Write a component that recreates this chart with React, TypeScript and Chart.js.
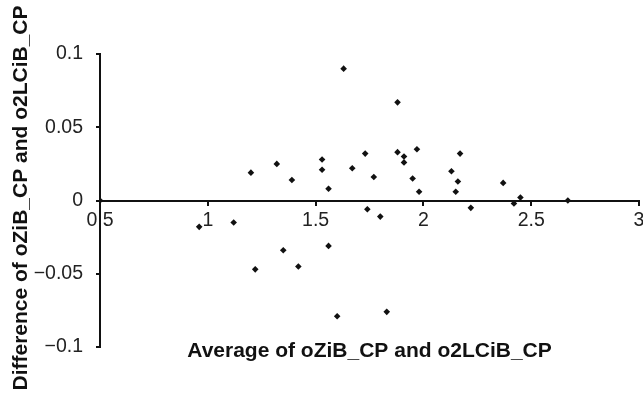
import React, { useEffect, useRef } from "react";
import { Chart, registerables } from "chart.js";

Chart.register(...registerables);

// Bland–Altman style data: average (x) vs difference (y)
const averages = [
  0.5, 0.96, 1.12, 1.2, 1.22, 1.32, 1.35, 1.39, 1.42, 1.53, 1.53, 1.56, 1.56, 1.6,
  1.63, 1.67, 1.73, 1.74, 1.77, 1.8, 1.83, 1.88, 1.88, 1.91, 1.91, 1.95, 1.97, 1.98,
  2.13, 2.15, 2.16, 2.17, 2.22, 2.37, 2.42, 2.45, 2.67,
];
const differences = [
  0.0, -0.018, -0.015, 0.019, -0.047, 0.025, -0.034, 0.014, -0.045, 0.028, 0.021, 0.008, -0.031, -0.079,
  0.09, 0.022, 0.032, -0.006, 0.016, -0.011, -0.076, 0.067, 0.033, 0.03, 0.026, 0.015, 0.035, 0.006,
  0.02, 0.006, 0.013, 0.032, -0.005, 0.012, -0.002, 0.002, 0.0,
];
const xTicks = [0.5, 1, 1.5, 2, 2.5, 3];
const yTicks = [-0.1, -0.05, 0, 0.05, 0.1];
const xTitle = "Average of oZiB_CP and o2LCiB_CP";
const yTitle = "Difference of oZiB_CP and o2LCiB_CP";

const FONT = "'Liberation Sans', Arial, Helvetica, sans-serif";

// Axis titles: x title sits inside the lower plot region, y title runs along the left edge
const titlesPlugin = {
  id: "axisTitles",
  afterDraw(chart: any) {
    const { ctx, chartArea } = chart;
    ctx.save();
    ctx.fillStyle = "#111";
    ctx.font = `bold 21px ${FONT}`;
    ctx.textAlign = "center";
    ctx.textBaseline = "alphabetic";
    const cx = (chartArea.left + chartArea.right) / 2;
    ctx.fillText(xTitle, cx, 357);
    ctx.translate(27, 198);
    ctx.rotate(-Math.PI / 2);
    ctx.fillText(yTitle, 0, 0);
    ctx.restore();
  },
};

export default function App() {
  const ref = useRef<HTMLCanvasElement>(null);

  useEffect(() => {
    document.body.style.margin = "0";
    const canvas = ref.current!;
    const points = averages.map((x, i) => ({ x, y: differences[i] }));
    const chart = new Chart(canvas, {
      type: "scatter",
      data: {
        datasets: [
          {
            data: points,
            pointStyle: "rectRot",
            pointRadius: 3.3,
            pointBackgroundColor: "#111",
            pointBorderColor: "#111",
            pointBorderWidth: 0,
          },
        ],
      },
      options: {
        responsive: false,
        animation: false,
        layout: { padding: { top: 54, right: 3, left: 0, bottom: 49 } },
        plugins: { legend: { display: false }, tooltip: { enabled: false } },
        scales: {
          x: {
            type: "linear",
            position: { y: 0 } as any,
            min: 0.5,
            max: 3,
            afterBuildTicks: (s: any) => {
              s.ticks = xTicks.map((v) => ({ value: v }));
            },
            afterFit: (s: any) => {
              s.height = 0;
              s.paddingLeft = 0;
              s.paddingRight = 0;
            },
            border: { display: true, color: "#111", width: 2 },
            grid: { drawOnChartArea: false, drawTicks: true, tickLength: 4, color: "#111", lineWidth: 2 },
            ticks: {
              color: "#222",
              font: { size: 19.5, family: FONT },
              padding: 4,
              maxRotation: 0,
              callback: (v: any) => String(v),
            },
          },
          y: {
            type: "linear",
            min: -0.1,
            max: 0.1,
            afterBuildTicks: (s: any) => {
              s.ticks = yTicks.map((v) => ({ value: v }));
            },
            afterFit: (s: any) => {
              s.width = 100;
            },
            border: { display: true, color: "#111", width: 2 },
            grid: { drawOnChartArea: false, drawTicks: true, tickLength: 4, color: "#111", lineWidth: 2 },
            ticks: {
              color: "#222",
              font: { size: 19.5, family: FONT },
              padding: 13,
              callback: (v: any) => (v < 0 ? "\u2212" + String(-v) : String(v)),
            },
          },
        },
      },
      plugins: [titlesPlugin],
    });
    return () => chart.destroy();
  }, []);

  return (
    <div style={{ position: "fixed", left: 0, top: 0, width: 643, height: 396, background: "#fff" }}>
      <canvas ref={ref} width={643} height={396} style={{ width: 643, height: 396 }} />
    </div>
  );
}
